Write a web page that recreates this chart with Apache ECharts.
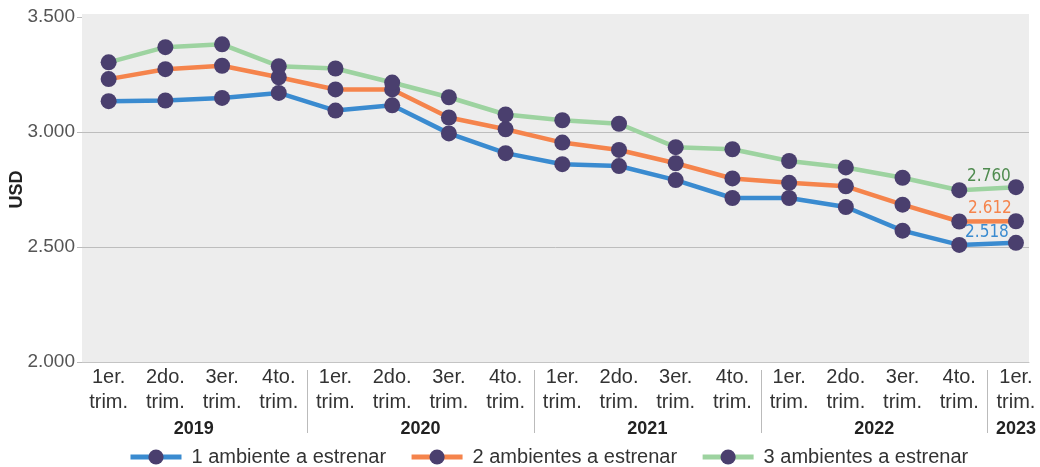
<!DOCTYPE html>
<html><head><meta charset="utf-8">
<script src="https://cdn.jsdelivr.net/npm/echarts@6/dist/echarts.min.js"></script>
<style>html,body{margin:0;padding:0;background:#fff}#c{width:1040px;height:467px}</style>
</head><body><div id="c"></div>
<script>
const categories = ['1er.\ntrim.','2do.\ntrim.','3er.\ntrim.','4to.\ntrim.',
  '1er.\ntrim.','2do.\ntrim.','3er.\ntrim.','4to.\ntrim.',
  '1er.\ntrim.','2do.\ntrim.','3er.\ntrim.','4to.\ntrim.',
  '1er.\ntrim.','2do.\ntrim.','3er.\ntrim.','4to.\ntrim.',
  '1er.\ntrim.'];
const years = ['2019','2020','2021','2022','2023'];
const yearCenters = [1.5, 5.5, 9.5, 13.5, 16];
const yearSeparators = [3.5, 7.5, 11.5, 15.5];
const seriesNames = ['1 ambiente a estrenar','2 ambientes a estrenar','3 ambientes a estrenar'];
const oneRoom    = [3134,3137,3148,3170,3093,3116,2994,2908,2860,2852,2791,2713,2713,2674,2571,2509,2518];
const twoRooms   = [3230,3273,3288,3238,3185,3185,3063,3012,2954,2922,2864,2798,2779,2764,2684,2611,2612];
const threeRooms = [3303,3369,3381,3286,3276,3215,3151,3076,3051,3036,2934,2925,2874,2846,2801,2747,2760];
const yTicks = {min: 2000, max: 3500, interval: 500};
const xRange = {min: -0.47, max: 16.23};

const lineColors = ['#3a8bd0', '#f5844c', '#9dd3a0'];
const labelColors = ['#3a8bd0', '#f5844c', '#4f8b4f'];
const labelOffsets = [[-29, -10], [-26, -13], [-27, -11]];
const dotColor = '#4a3f6e';
const FONT = '"Liberation Sans", Arial, sans-serif';

function fmt(v) { return String(v).replace(/\B(?=(\d{3})+(?!\d))/g, '.'); }
const catIdx = categories.map((_, i) => i);

const allData = [oneRoom, twoRooms, threeRooms];
const series = allData.map((arr, s) => ({
  name: seriesNames[s],
  type: 'line',
  xAxisIndex: 0,
  symbol: 'circle',
  symbolSize: 16,
  lineStyle: {color: lineColors[s], width: 4.5},
  itemStyle: {color: dotColor},
  color: lineColors[s],
  z: 2 + s,
  data: arr.map((v, i) => i === arr.length - 1 ? {
    value: [i, v],
    label: {show: true, position: 'inside', offset: labelOffsets[s], formatter: p => fmt(p.value[1]),
      color: labelColors[s], fontSize: 17, fontFamily: '"DejaVu Sans Condensed", "Liberation Sans Narrow", sans-serif'}
  } : [i, v])
}));

const chart = echarts.init(document.getElementById('c'), null, {renderer: 'canvas'});
chart.setOption({
  animation: false,
  textStyle: {fontFamily: FONT},
  grid: {left: 82, top: 17, right: 11, height: 345, containLabel: false, outerBoundsMode: 'none'},
  graphic: [{type: 'rect', z: -10, silent: true, shape: {x: 82, y: 14, width: 947, height: 348}, style: {fill: '#ededed'}}],
  legend: {
    left: 128, top: 447, padding: 0, itemWidth: 51, itemHeight: 19, itemGap: 23,
    lineStyle: {width: 5},
    textStyle: {fontSize: 20, color: '#333', fontFamily: FONT, padding: [0, 0, 0, 5]},
    data: seriesNames
  },
  xAxis: [{
    type: 'value', min: xRange.min, max: xRange.max, position: 'bottom',
    axisLine: {show: true, onZero: false, lineStyle: {color: '#c4c4c4', width: 1}},
    axisTick: {show: false},
    splitLine: {show: false},
    axisLabel: {show: true, customValues: catIdx, formatter: v => categories[v],
      fontSize: 20, lineHeight: 24.7, color: '#333', margin: 3, fontFamily: FONT}
  }, {
    type: 'value', min: xRange.min, max: xRange.max, position: 'bottom', offset: 8,
    axisLine: {show: false, onZero: false},
    splitLine: {show: false},
    axisTick: {show: true, customValues: yearSeparators, length: 63, lineStyle: {color: '#bbb', width: 1}},
    axisLabel: {show: true, customValues: yearCenters, margin: 50,
      formatter: v => years[yearCenters.indexOf(v)],
      fontSize: 18, fontWeight: 'bold', color: '#222', fontFamily: FONT}
  }],
  yAxis: {
    type: 'value', min: yTicks.min, max: yTicks.max, interval: yTicks.interval, position: 'left',
    name: 'USD', nameLocation: 'middle', nameGap: 56, nameMoveOverlap: false,
    nameTextStyle: {fontSize: 18, fontWeight: 'bold', color: '#222', fontFamily: FONT},
    axisLine: {show: false, onZero: false},
    axisTick: {show: true, length: 5, lineStyle: {color: '#bbb'}},
    axisLabel: {formatter: v => fmt(v), fontSize: 19, color: '#555', margin: 7, fontFamily: FONT},
    splitLine: {show: true, showMinLine: false, showMaxLine: false, lineStyle: {color: '#bdbdbd', width: 1}}
  },
  series: series
});
</script></body></html>
